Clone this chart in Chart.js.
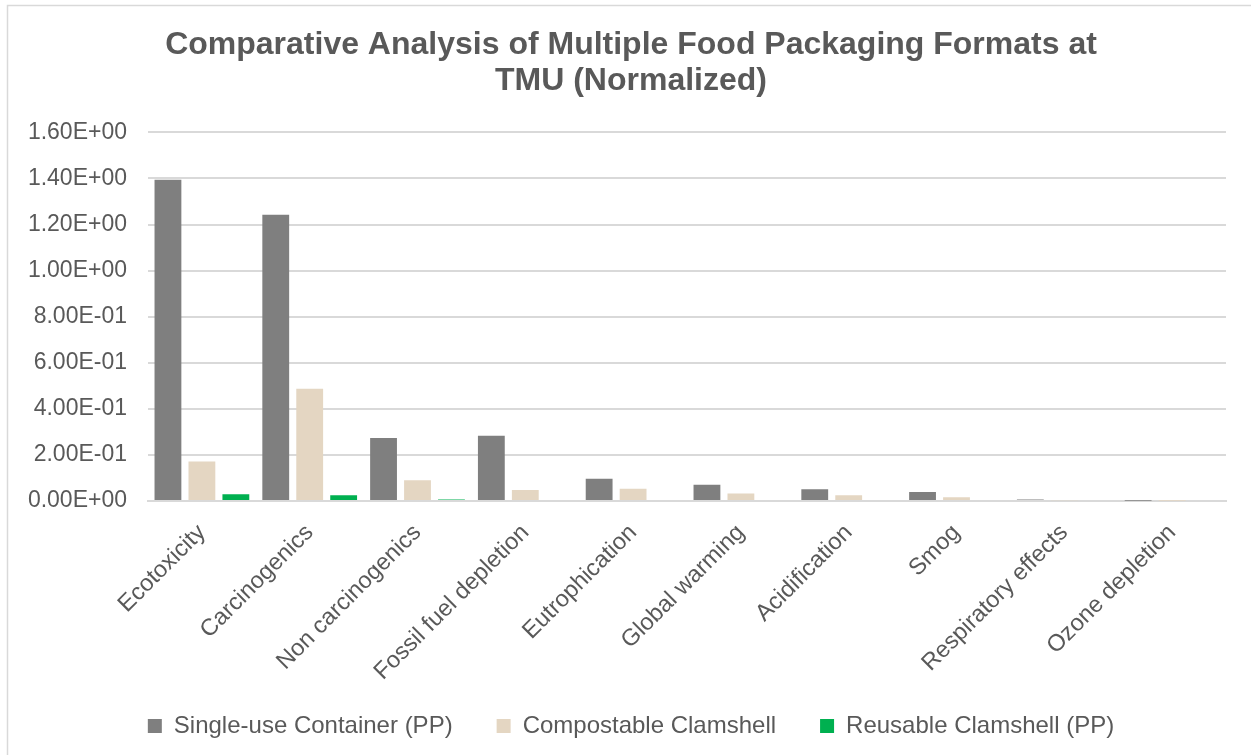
<!DOCTYPE html>
<html>
<head>
<meta charset="utf-8">
<script src="https://cdn.jsdelivr.net/npm/chart.js@4/dist/chart.umd.min.js"></script>
<style>
  html, body { margin: 0; padding: 0; background: #ffffff; }
  #wrap { width: 1251px; height: 755px; position: relative; }
</style>
</head>
<body>
<div id="wrap"><canvas id="c" width="1251" height="755"></canvas></div>
<script>
// Impact categories (normalized scores)
const categories = [
  'Ecotoxicity', 'Carcinogenics', 'Non carcinogenics', 'Fossil fuel depletion',
  'Eutrophication', 'Global warming', 'Acidification', 'Smog',
  'Respiratory effects', 'Ozone depletion'
];
const singleUsePP = [1.395, 1.243, 0.274, 0.283, 0.097, 0.071, 0.051, 0.039, 0.007, 0.001];
const compostable = [0.171, 0.487, 0.090, 0.048, 0.053, 0.033, 0.025, 0.016, 0.003, 0.001];
const reusablePP  = [0.029, 0.025, 0.006, 0.004, 0.000, 0.000, 0.000, 0.000, 0.000, 0.000];
const seriesNames = ['Single-use Container (PP)', 'Compostable Clamshell', 'Reusable Clamshell (PP)'];
const yTickLabels = ['0.00E+00', '2.00E-01', '4.00E-01', '6.00E-01', '8.00E-01',
                     '1.00E+00', '1.20E+00', '1.40E+00', '1.60E+00'];

const textColor = '#595959';
const gridColor = '#d9d9d9';
const fontFamily = 'Liberation Sans, Arial, sans-serif';

// Outer frame of the chart area
const framePlugin = {
  id: 'frame',
  beforeDraw(chart) {
    const ctx = chart.ctx;
    ctx.save();
    ctx.fillStyle = '#ffffff';
    ctx.fillRect(0, 0, chart.width, chart.height);
    ctx.strokeStyle = gridColor;
    ctx.lineWidth = 1.5;
    ctx.strokeRect(7.5, 5.5, chart.width + 20, chart.height + 20);
    ctx.restore();
  }
};

// Pull the legend row up so it sits closer to the rotated category labels
const legendLift = {
  id: 'legendLift',
  afterLayout(chart) {
    const lg = chart.legend;
    if (lg) { lg.top -= 13; lg.bottom -= 13; }
  }
};

new Chart(document.getElementById('c'), {
  type: 'bar',
  data: {
    labels: categories,
    datasets: [
      { label: seriesNames[0], data: singleUsePP, backgroundColor: '#7f7f7f' },
      { label: seriesNames[1], data: compostable, backgroundColor: '#e4d6c2' },
      { label: seriesNames[2], data: reusablePP, backgroundColor: '#00b050' }
    ]
  },
  options: {
    responsive: false,
    animation: false,
    devicePixelRatio: 1,
    layout: { padding: { top: 28, right: 0, bottom: 0, left: 11 } },
    datasets: {
      bar: { categoryPercentage: 0.945, barPercentage: 0.79 }
    },
    scales: {
      x: {
        grid: { display: false, drawTicks: false },
        border: { display: true, color: gridColor, width: 2 },
        ticks: {
          color: textColor,
          font: { family: fontFamily, size: 23.5 },
          maxRotation: 45, minRotation: 45,
          padding: 18,
          autoSkip: false
        },
        afterFit(scale) { scale.height = 182; }
      },
      y: {
        min: 0, max: 1.6,
        grid: { color: gridColor, lineWidth: 2, drawTicks: false },
        border: { display: false },
        ticks: {
          stepSize: 0.2,
          color: textColor,
          padding: 21,
          font: { family: fontFamily, size: 23 },
          callback: (v, i) => yTickLabels[i]
        },
        afterFit(scale) { scale.width = 137; }
      },
      // empty right-hand margin beside the plot
      margin: {
        type: 'linear',
        position: 'right',
        min: 0, max: 1,
        grid: { display: false, drawTicks: false },
        border: { display: false },
        ticks: { display: false },
        afterFit(scale) { scale.width = 25; }
      }
    },
    plugins: {
      title: {
        display: true,
        text: ['Comparative Analysis of Multiple Food Packaging Formats at', 'TMU (Normalized)'],
        color: textColor,
        font: { family: fontFamily, size: 32, weight: 'bold', lineHeight: 1.1 },
        padding: { top: 0, bottom: 34 }
      },
      legend: {
        position: 'bottom',
        maxHeight: 72,
        labels: {
          color: textColor,
          font: { family: fontFamily, size: 24 },
          boxWidth: 14, boxHeight: 14,
          padding: 44
        }
      },
      tooltip: { enabled: false }
    }
  },
  plugins: [framePlugin, legendLift]
});
</script>
</body>
</html>
